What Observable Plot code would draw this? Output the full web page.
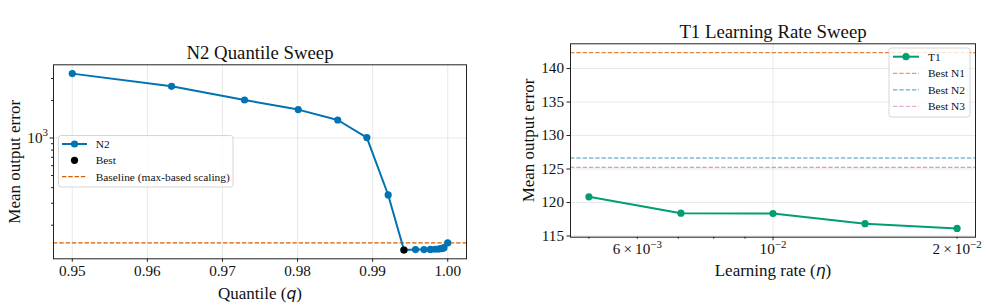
<!DOCTYPE html>
<html><head><meta charset="utf-8">
<script src="https://cdn.jsdelivr.net/npm/d3@7"></script>
<script src="https://cdn.jsdelivr.net/npm/@observablehq/plot@0.6"></script>
<style>
html,body{margin:0;padding:0;background:#fff;}
#wrap{position:relative;width:987px;height:306px;overflow:hidden;background:#fff;}
.panel{position:absolute;top:0;}
#overlay{position:absolute;left:0;top:0;pointer-events:none;}
</style></head><body><div id="wrap"></div>
<script>
// ---------- Left panel data: N2 quantile sweep ----------
const quantiles = [0.95, 0.96322, 0.97294, 0.98009, 0.98535, 0.98923, 0.99207, 0.99417, 0.99571, 0.99684, 0.99768, 0.99829, 0.99874, 0.99908, 0.99932, 0.9995, 1.0];
const n2Error   = [3281, 2594, 2016, 1689, 1394, 1007, 349.4, 126.6, 127.5, 127.6, 127.9, 128.3, 128.8, 129.6, 130.6, 132.0, 144.1];
const bestQuantile = 0.99417;
const bestError = 126.6;
const baselineError = 144.1;
const qTicks = [0.95, 0.96, 0.97, 0.98, 0.99, 1.00];
const n2MajorY = [1000];
const n2MajorYLabels = ["10³"];
const n2MinorY = [200, 300, 400, 500, 600, 700, 800, 900, 2000, 3000];

// ---------- Right panel data: T1 learning-rate sweep ----------
const learningRates = [0.005, 0.0070711, 0.01, 0.0141421, 0.02];
const t1Error = [120.85, 118.4, 118.35, 116.83, 116.13];
const bestNames = ["Best N1", "Best N2", "Best N3"];
const bestValues = [142.38, 126.64, 125.25];
const bestColors = ["#d55e00", "#0173b2", "#cc78bc"];
const lrMajor = [0.01];
const lrMajorLabels = ["10⁻²"];
const lrMinor = [0.005, 0.006, 0.007, 0.008, 0.009, 0.02];
const lrMinorLabels = ["", "6\u2009×\u200910⁻³", "", "", "", "2\u2009×\u200910⁻²"];
const t1YTicks = [115, 120, 125, 130, 135, 140];

// ---------- helpers ----------
const padLin = ([a, b]) => [a - 0.05 * (b - a), b + 0.05 * (b - a)];
const padLog = ([a, b]) => {
  const la = Math.log10(a), lb = Math.log10(b), p = 0.05 * (lb - la);
  return [10 ** (la - p), 10 ** (lb + p)];
};
const labeler = (ticks, labels) => {
  const m = new Map(ticks.map((t, i) => [t, labels[i]]));
  return d => m.get(d) ?? "";
};
const serif = '"Liberation Serif", "Times New Roman", serif';
const gridStyle = {stroke: "#b0b0b0", strokeOpacity: 0.35, strokeWidth: 0.8};
const dash = "4.4,1.9";
const textColor = "#111";

const wrap = document.getElementById("wrap");

// ---------- Left plot ----------
const n2Data = quantiles.map((q, i) => ({q, e: n2Error[i]}));
const left = Plot.plot({
  width: 487, height: 306,
  marginLeft: 53, marginRight: 21, marginTop: 64.3, marginBottom: 47.7,
  style: {fontFamily: serif, fontSize: "15.2px", color: textColor, background: "transparent", overflow: "visible"},
  x: {domain: padLin(d3.extent(quantiles))},
  y: {type: "log", domain: padLog(d3.extent([...n2Error, baselineError]))},
  marks: [
    Plot.gridX(qTicks, gridStyle),
    Plot.gridY(n2MajorY, gridStyle),
    Plot.ruleY([baselineError], {stroke: "#d55e00", strokeWidth: 1.2, strokeDasharray: dash}),
    Plot.line(n2Data, {x: "q", y: "e", stroke: "#0173b2", strokeWidth: 2}),
    Plot.dot(n2Data, {x: "q", y: "e", fill: "#0173b2", r: 3.6}),
    Plot.dot([{q: bestQuantile, e: bestError}], {x: "q", y: "e", fill: "black", r: 3.6}),
    Plot.axisX(qTicks, {tickSize: 3.5, tickPadding: 3, tickFormat: d3.format(".2f"), label: null, stroke: "#222"}),
    Plot.axisY(n2MajorY, {tickSize: 3.5, tickPadding: 2, tickFormat: labeler(n2MajorY, n2MajorYLabels), label: null, stroke: "#222"}),
    Plot.axisY(n2MinorY, {tickSize: 2, tickFormat: () => "", label: null, stroke: "#222"}),
    Plot.frame({stroke: "#222", strokeWidth: 1}),
    Plot.text(["N2 Quantile Sweep"], {frameAnchor: "top", lineAnchor: "bottom", dy: -5.7, fontSize: 18.8}),
    Plot.text(["Mean output error"], {frameAnchor: "left", rotate: -90, dx: -39, textAnchor: "middle", lineAnchor: "middle", fontSize: 17}),
    Plot.text(["Quantile (q)"], {frameAnchor: "bottom", lineAnchor: "middle", dy: 34.7, fontSize: 17})
  ]
});
left.classList.add("panel");
left.style.left = "0px";
wrap.appendChild(left);

// ---------- Right plot ----------
const t1Data = learningRates.map((lr, i) => ({lr, e: t1Error[i]}));
const right = Plot.plot({
  width: 497, height: 306,
  marginLeft: 80, marginRight: 12, marginTop: 43.3, marginBottom: 69.3,
  style: {fontFamily: serif, fontSize: "15.2px", color: textColor, background: "transparent", overflow: "visible"},
  x: {type: "log", domain: padLog(d3.extent(learningRates))},
  y: {domain: padLin(d3.extent([...t1Error, ...bestValues]))},
  marks: [
    Plot.gridX(lrMajor, gridStyle),
    Plot.gridY(t1YTicks, gridStyle),
    ...bestValues.map((v, i) => Plot.ruleY([v], {stroke: bestColors[i], strokeWidth: 1.2, strokeOpacity: 0.75, strokeDasharray: dash})),
    Plot.line(t1Data, {x: "lr", y: "e", stroke: "#029e73", strokeWidth: 2}),
    Plot.dot(t1Data, {x: "lr", y: "e", fill: "#029e73", r: 3.6}),
    Plot.axisX(lrMajor, {tickSize: 3.5, tickPadding: 3, tickFormat: labeler(lrMajor, lrMajorLabels), label: null, stroke: "#222", fontSize: 15.2}),
    Plot.axisX(lrMinor, {tickSize: 2, tickPadding: 4.5, tickFormat: labeler(lrMinor, lrMinorLabels), label: null, stroke: "#222", fontSize: 15.2}),
    Plot.axisY(t1YTicks, {tickSize: 3.5, tickPadding: 3, label: null, stroke: "#222"}),
    Plot.frame({stroke: "#222", strokeWidth: 1}),
    Plot.text(["T1 Learning Rate Sweep"], {frameAnchor: "top", lineAnchor: "bottom", dy: -5.7, fontSize: 18.8}),
    Plot.text(["Mean output error"], {frameAnchor: "left", rotate: -90, dx: -41.7, textAnchor: "middle", lineAnchor: "middle", fontSize: 17}),
    Plot.text(["Learning rate (η)"], {frameAnchor: "bottom", lineAnchor: "middle", dy: 33.3, fontSize: 17})
  ]
});
right.classList.add("panel");
right.style.left = "490px";
wrap.appendChild(right);

// italic math symbols in axis labels
function italicize(svg, full, pre, sym, post) {
  d3.select(svg).selectAll("text").filter(function () { return this.textContent === full; }).each(function () {
    const t = d3.select(this);
    t.text(null);
    t.append("tspan").text(pre);
    t.append("tspan").attr("font-family", '"DejaVu Sans", sans-serif').attr("font-style", "italic").attr("font-size", "0.92em").text(sym);
    t.append("tspan").text(post);
  });
}
italicize(left, "Quantile (q)", "Quantile (", "q", ")");
italicize(right, "Learning rate (η)", "Learning rate (", "η", ")");

// render unicode superscript exponents as real raised tspans (mathtext look)
const supMap = {"⁻": "−", "⁰": "0", "¹": "1", "²": "2", "³": "3", "⁴": "4", "⁵": "5", "⁶": "6", "⁷": "7", "⁸": "8", "⁹": "9"};
function superscripts(svg) {
  d3.select(svg).selectAll("text").each(function () {
    const s = this.textContent;
    const m = s.match(/^(.*?)([⁻⁰¹²³⁴⁵⁶⁷⁸⁹]+)$/);
    if (!m) return;
    const t = d3.select(this);
    t.text(null);
    t.append("tspan").text(m[1]);
    t.append("tspan").attr("font-size", "0.72em").attr("dy", "-0.62em")
      .text([...m[2]].map(c => supMap[c]).join(""));
  });
}
superscripts(left);
superscripts(right);

// ---------- Legends ----------
const ov = d3.select(wrap).append("svg").attr("id", "overlay").attr("width", 987).attr("height", 306)
  .style("font-family", serif).style("font-size", "11.4px");

function legend(x, y, w, h, hx0, hx1, tx, rows) {
  const g = ov.append("g");
  g.append("rect").attr("x", x).attr("y", y).attr("width", w).attr("height", h).attr("rx", 2.5)
    .attr("fill", "white").attr("fill-opacity", 0.8).attr("stroke", "#cccccc").attr("stroke-width", 0.8);
  rows.forEach(r => {
    if (r.line) {
      g.append("line").attr("x1", hx0).attr("x2", hx1).attr("y1", r.y).attr("y2", r.y)
        .attr("stroke", r.color).attr("stroke-width", r.dashed ? 1.2 : 2)
        .attr("stroke-opacity", r.opacity ?? 1)
        .attr("stroke-dasharray", r.dashed ? dash : null);
    }
    if (r.dot) {
      g.append("circle").attr("cx", (hx0 + hx1) / 2).attr("cy", r.y).attr("r", 3.6).attr("fill", r.color);
    }
    g.append("text").attr("x", tx).attr("y", r.y).attr("dy", "0.35em").attr("fill", textColor).text(r.label);
  });
}
legend(58.5, 135.5, 174.5, 51.5, 62, 87, 95.7, [
  {label: "N2", color: "#0173b2", line: true, dot: true, y: 144},
  {label: "Best", color: "black", dot: true, y: 160.3},
  {label: "Baseline (max-based scaling)", color: "#d55e00", line: true, dashed: true, y: 176.7}
]);
legend(889, 48, 81, 69, 893, 919, 928, [
  {label: "T1", color: "#029e73", line: true, dot: true, y: 56.7},
  ...bestNames.map((n, i) => ({label: n, color: bestColors[i], line: true, dashed: true, opacity: 0.6, y: 73.4 + i * 16.5}))
]);
</script>
</body></html>
